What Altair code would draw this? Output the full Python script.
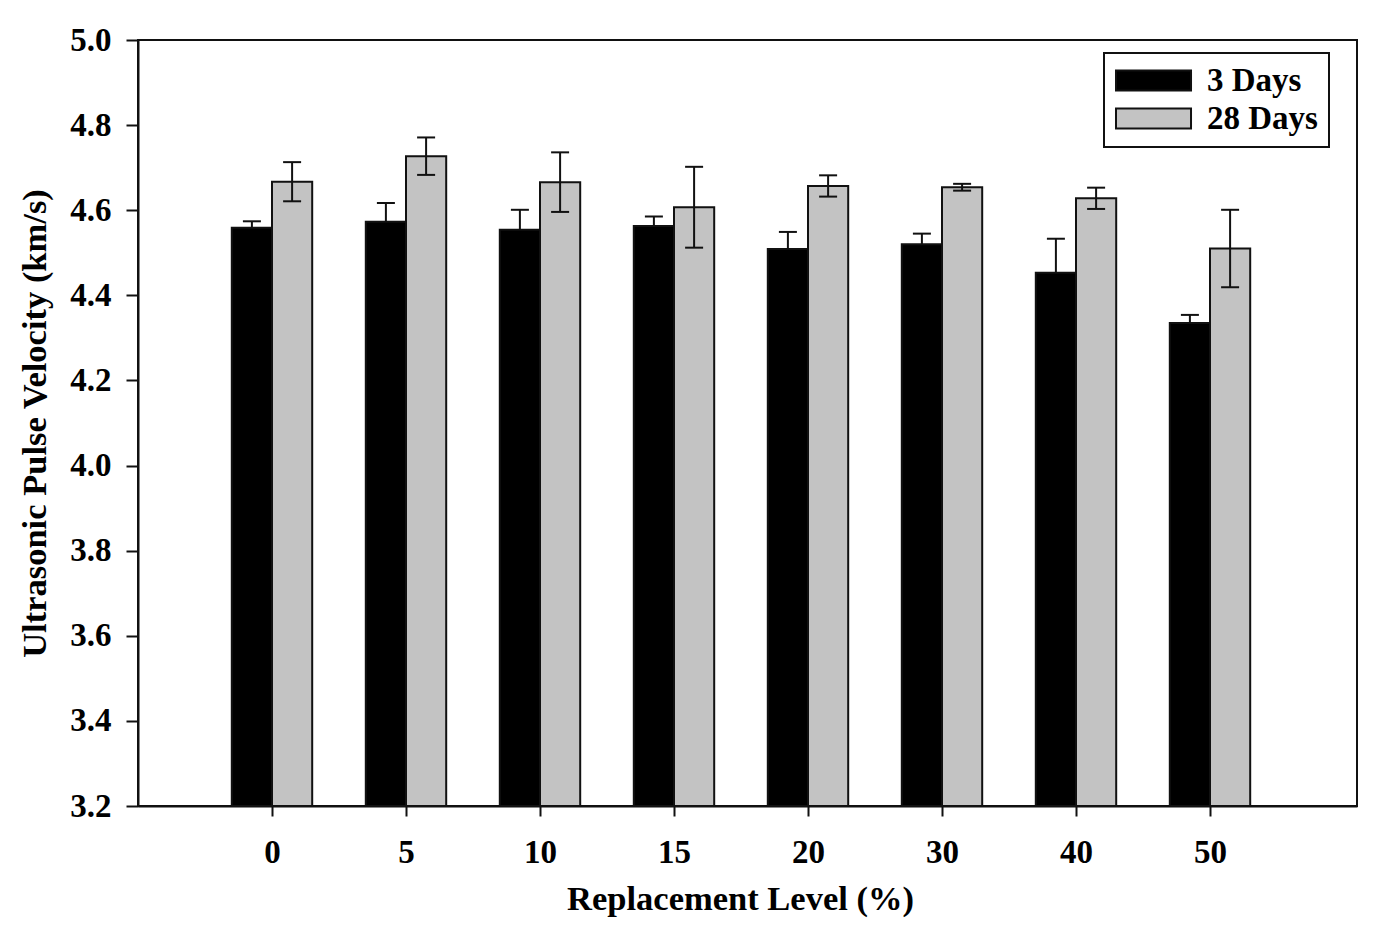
import json
import altair as alt
import pandas as pd

# ---- data ----
levels = ["0", "5", "10", "15", "20", "30", "40", "50"]
series_names = ["3 Days", "28 Days"]
series_colors = ["#000000", "#c3c3c3"]
days3 = [4.559, 4.573, 4.554, 4.563, 4.509, 4.520, 4.453, 4.335]
days3_err = [0.015, 0.044, 0.047, 0.022, 0.040, 0.025, 0.080, 0.019]
days28 = [4.667, 4.727, 4.666, 4.607, 4.657, 4.654, 4.628, 4.510]
days28_err = [0.046, 0.044, 0.070, 0.095, 0.025, 0.008, 0.025, 0.091]
y_ticks = [3.2, 3.4, 3.6, 3.8, 4.0, 4.2, 4.4, 4.6, 4.8, 5.0]

rows = []
for i, lv in enumerate(levels):
    rows.append({"level": lv, "idx": i, "series": series_names[0], "value": days3[i], "err": days3_err[i]})
    rows.append({"level": lv, "idx": i, "series": series_names[1], "value": days28[i], "err": days28_err[i]})
df = pd.DataFrame(rows)

FONT = "Liberation Serif"
LINE = "#111111"
label_expr = json.dumps(levels) + "[datum.value]"

xscale = alt.Scale(domain=[-1, 8.097], nice=False, zero=False)
yscale = alt.Scale(domain=[3.2, 5.0], nice=False, zero=False)

xaxis = alt.Axis(
    title="Replacement Level (%)",
    values=list(range(len(levels))),
    labelExpr=label_expr,
    tickSize=10,
    labelPadding=20,
    titleX=602,
    titleY=93,
    titleBaseline="middle",
    titleAlign="center",
)
yaxis = alt.Axis(
    title="Ultrasonic Pulse Velocity (km/s)",
    values=y_ticks,
    format=".1f",
    tickSize=12,
    labelPadding=15,
    titleAngle=270,
    titleX=-103,
    titleY=383,
    titleBaseline="middle",
    titleAlign="center",
)

base = alt.Chart(df).transform_calculate(
    x0="datum.series == '3 Days' ? datum.idx - 0.3 : datum.idx",
    x1="datum.series == '3 Days' ? datum.idx : datum.idx + 0.3",
    xc="datum.series == '3 Days' ? datum.idx - 0.15 : datum.idx + 0.15",
    lo="datum.series == '3 Days' ? datum.value : datum.value - datum.err",
    hi="datum.value + datum.err",
)

bars = base.mark_bar(stroke=LINE, strokeWidth=2).encode(
    x=alt.X("x0:Q", scale=xscale, axis=xaxis),
    x2="x1:Q",
    y=alt.Y("value:Q", scale=yscale, axis=yaxis),
    y2=alt.datum(3.2),
    color=alt.Color(
        "series:N",
        scale=alt.Scale(domain=series_names, range=series_colors),
        legend=alt.Legend(
            title=None,
            orient="none",
            legendX=966,
            legendY=13,
            symbolType="M-1,-0.645H3.84V0.645H-1Z",
            symbolSize=961,
            symbolStrokeColor=LINE,
            symbolStrokeWidth=2,
            labelOffset=59,
            padding=11,
            rowPadding=4,
            strokeColor=LINE,
            fillColor="white",
        ),
    ),
)

rules = base.mark_rule(color=LINE, strokeWidth=2).encode(
    x=alt.X("xc:Q", scale=xscale, axis=xaxis),
    y=alt.Y("lo:Q", scale=yscale, axis=yaxis),
    y2="hi:Q",
)
caps_hi = base.mark_tick(orient="horizontal", size=18, thickness=2, color=LINE, opacity=1).encode(
    x=alt.X("xc:Q", scale=xscale, axis=xaxis),
    y=alt.Y("hi:Q", scale=yscale, axis=yaxis),
)
caps_lo = base.transform_filter("datum.series == '28 Days'").mark_tick(
    orient="horizontal", size=18, thickness=2, color=LINE, opacity=1
).encode(
    x=alt.X("xc:Q", scale=xscale, axis=xaxis),
    y=alt.Y("lo:Q", scale=yscale, axis=yaxis),
)

chart = (
    alt.layer(bars, rules, caps_hi, caps_lo)
    .properties(
        width=1219,
        height=766,
        autosize=alt.AutoSizeParams(type="none"),
        padding={"left": 130, "top": 32, "right": 8, "bottom": 115},
        background="white",
    )
    .configure_view(stroke=LINE, strokeWidth=2)
    .configure_axis(
        grid=False,
        domainColor=LINE,
        domainWidth=2,
        tickColor=LINE,
        tickWidth=2,
        labelFont=FONT,
        labelFontWeight="bold",
        labelFontSize=33,
        labelColor="black",
        titleFont=FONT,
        titleFontWeight="bold",
        titleFontSize=34.5,
        titleColor="black",
    )
    .configure_legend(
        labelFont=FONT,
        labelFontWeight="bold",
        labelFontSize=33,
        labelColor="black",
        strokeWidth=2,
    )
)

chart.save("out.html", embed_options={"renderer": "svg", "actions": False})
